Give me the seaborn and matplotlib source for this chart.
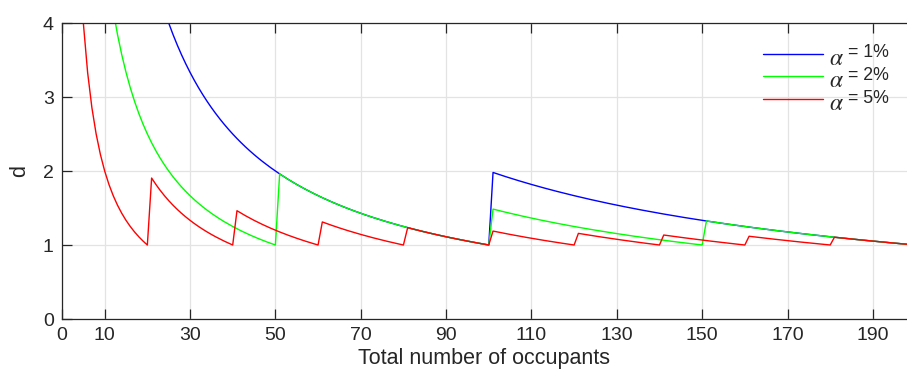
import numpy as np
import pandas as pd
import matplotlib
matplotlib.use("Agg")
import matplotlib.pyplot as plt
import seaborn as sns

# Significance levels (percent) and the occupant counts evaluated
alpha_pct = [1, 2, 5]
line_colors = ["#0000ff", "#00ff00", "#ff0000"]
occupants = np.arange(1, 201)
x_ticks = [0, 10, 30, 50, 70, 90, 110, 130, 150, 170, 190]
y_ticks = [0, 1, 2, 3, 4]

# d = ceil(n*alpha) / (n*alpha): required over expected count ratio
frames = []
for a in alpha_pct:
    expected = occupants * a / 100.0
    d = np.ceil(np.round(expected, 9)) / expected
    frames.append(pd.DataFrame({"n": occupants, "d": d,
                                "level": f"= {a}%"}))
df = pd.concat(frames, ignore_index=True)

sns.set_theme(style="white")
plt.rcParams["font.family"] = ["Liberation Sans", "DejaVu Sans"]
plt.rcParams["mathtext.fontset"] = "stix"

W, H = 907, 371
fig = plt.figure(figsize=(W / 100, H / 100), dpi=100)
ax = fig.add_axes([62 / W, 52 / H, 845 / W, 296 / H])

sns.lineplot(data=df, x="n", y="d", hue="level", palette=line_colors,
             linewidth=1.0, ax=ax, legend=True)

ax.set_xlim(0, 198)
ax.set_ylim(0, 4)
ax.set_xticks(x_ticks)
ax.set_yticks(y_ticks)
ax.grid(True, color="#e3e3e3", linewidth=0.9)
ax.set_axisbelow(True)

for side in ["left", "bottom", "top"]:
    ax.spines[side].set_color("#262626")
    ax.spines[side].set_linewidth(0.9)
ax.spines["right"].set_visible(False)
ax.tick_params(axis="both", direction="in", length=7, width=0.9,
               color="#262626", labelsize=14, labelcolor="#262626",
               top=True, bottom=True, left=True, pad=6)
ax.tick_params(axis="x", labeltop=False)

ax.set_xlabel("Total number of occupants", fontsize=15.5, color="#262626",
              labelpad=2.5)
ax.set_ylabel("d", fontsize=15.5, color="#262626", labelpad=9)

leg = ax.legend(loc="upper right", frameon=False, fontsize=12.8,
                handlelength=3.4, handletextpad=1.4, labelspacing=0.33,
                borderaxespad=0.0, bbox_to_anchor=(0.987, 0.953))
for t in leg.get_texts():
    t.set_color("#262626")
# lower the legend line samples slightly relative to their labels
for h in leg.legend_handles:
    y = np.asarray(h.get_ydata(), dtype=float)
    h.set_ydata(y - 2.0)

# the italic alpha symbol sits just left of each label, a little low
fig.canvas.draw()
for t in leg.get_texts():
    bb = t.get_window_extent()
    cy = (bb.y0 + bb.y1) / 2
    fig.text((bb.x0 - 12.0) / W, (cy - 6.0) / H, r"$\alpha$",
             fontsize=17, color="#262626", ha="center", va="center")

fig.savefig("out.png", dpi=100)
